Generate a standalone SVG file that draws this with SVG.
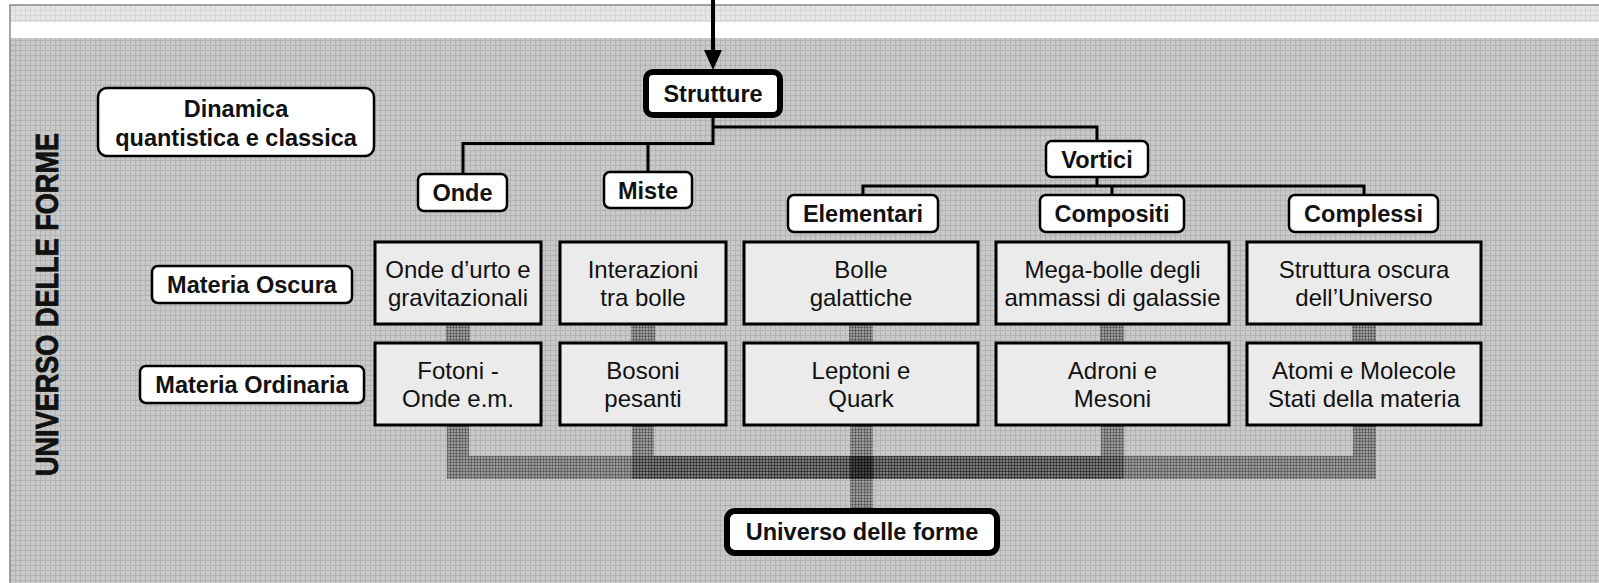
<svg xmlns="http://www.w3.org/2000/svg" width="1599" height="583" viewBox="0 0 1599 583">
<defs>
<pattern id="grid" width="5" height="5" patternUnits="userSpaceOnUse">
<rect width="5" height="5" fill="#c9c9c9"/>
<path d="M0,0.5 H5 M0.5,0 V5" stroke="#b3b3b3" stroke-width="1"/>
</pattern>
<pattern id="gridLight" width="5" height="5" patternUnits="userSpaceOnUse">
<rect width="5" height="5" fill="#e6e6e6"/>
<path d="M0,0.5 H5 M0.5,0 V5" stroke="#d6d6d6" stroke-width="1"/>
</pattern>
<pattern id="hatch" width="3" height="3" patternUnits="userSpaceOnUse">
<rect width="3" height="3" fill="#1a1a1a" fill-opacity="0.25"/>
<path d="M0,0.5 H3 M0.5,0 V3" stroke="#111" stroke-opacity="0.3" stroke-width="1"/>
</pattern>
<style>
.lbl{fill:#fff;stroke:#000;stroke-width:2.5}
.thick{fill:#fff;stroke:#000;stroke-width:6}
.cell{fill:#ebebeb;stroke:#000;stroke-width:3}
.b{font-family:"Liberation Sans",Arial,sans-serif;font-weight:bold;font-size:23.5px;fill:#111;text-anchor:middle}
.r{font-family:"Liberation Sans",Arial,sans-serif;font-size:24px;fill:#111;text-anchor:middle}
.ln{fill:none;stroke:#000;stroke-width:3}
.hb{fill:url(#hatch)}
</style>
</defs>

<!-- background -->
<rect x="0" y="0" width="1599" height="583" fill="#fff"/>
<rect x="10" y="5" width="1589" height="17" fill="url(#gridLight)"/>
<rect x="10" y="22" width="1589" height="16" fill="#fff"/>
<rect x="10" y="38" width="1589" height="545" fill="url(#grid)"/>
<path d="M10,583 V5 H1599" fill="none" stroke="#8a8a8a" stroke-width="1.5"/>

<text transform="translate(57.5 304.5) rotate(-90) scale(1 1.17)" font-family="'Liberation Sans',Arial,sans-serif" font-weight="bold" font-size="27" fill="#111" stroke="#111" stroke-width="0.7" text-anchor="middle" textLength="343" lengthAdjust="spacingAndGlyphs">UNIVERSO DELLE FORME</text>

<!-- connectors -->
<g id="connectors">
<path d="M713,0 V50" fill="none" stroke="#000" stroke-width="4"/>
<path d="M704,50 L722,50 L713,70 Z" fill="#000"/>
<path class="ln" d="M713,118 V143.5 H463 V174"/>
<path class="ln" d="M648,143.5 V172"/>
<path class="ln" d="M713,127 H1097 V141"/>
<path class="ln" d="M1097,178 V186 M863,195 V186 H1364 V195 M1112,186 V195"/>
<rect class="hb" x="446" y="325" width="24" height="18"/>
<rect class="hb" x="631" y="325" width="24" height="18"/>
<rect class="hb" x="849" y="325" width="24" height="18"/>
<rect class="hb" x="1100" y="325" width="24" height="18"/>
<rect class="hb" x="1352" y="325" width="24" height="18"/>
<path class="hb" d="M447,426 H469 V456 H873 V479 H447 Z"/>
<path class="hb" d="M632,426 H654 V456 H873 V479 H632 Z"/>
<path class="hb" d="M850,426 H873 V508 H850 Z"/>
<path class="hb" d="M1101,426 H1124 V479 H850 V456 H1101 Z"/>
<path class="hb" d="M1353,426 H1376 V479 H850 V456 H1353 Z"/>
</g>

<g id="strutture"><rect class="thick" x="646" y="72" width="134" height="43" rx="7"/><text class="b" x="713" y="102">Strutture</text></g>
<g id="dinamica"><rect class="lbl" x="98" y="88" width="276" height="68" rx="9"/><text class="b" x="236" y="117">Dinamica</text><text class="b" x="236" y="146">quantistica e classica</text></g>
<g id="onde"><rect class="lbl" x="418" y="174" width="89" height="37" rx="6"/><text class="b" x="462.5" y="201">Onde</text></g>
<g id="miste"><rect class="lbl" x="604" y="172" width="88" height="36" rx="6"/><text class="b" x="648" y="199">Miste</text></g>
<g id="vortici"><rect class="lbl" x="1046" y="141" width="102" height="36" rx="6"/><text class="b" x="1097" y="168">Vortici</text></g>
<g id="elementari"><rect class="lbl" x="788" y="195" width="150" height="37" rx="6"/><text class="b" x="863" y="222">Elementari</text></g>
<g id="compositi"><rect class="lbl" x="1040" y="195" width="144" height="37" rx="6"/><text class="b" x="1112" y="222">Compositi</text></g>
<g id="complessi"><rect class="lbl" x="1289" y="195" width="149" height="37" rx="6"/><text class="b" x="1363.5" y="222">Complessi</text></g>
<g id="materia-oscura"><rect class="lbl" x="152" y="266" width="200" height="37" rx="6"/><text class="b" x="252" y="293">Materia Oscura</text></g>
<g id="materia-ordinaria"><rect class="lbl" x="140" y="366" width="224" height="37" rx="6"/><text class="b" x="252" y="393">Materia Ordinaria</text></g>

<g id="onde-urto"><rect class="cell" x="375" y="242" width="166" height="82"/><text class="r" x="458" y="278">Onde d’urto e</text><text class="r" x="458" y="306">gravitazionali</text></g>
<g id="interazioni"><rect class="cell" x="560" y="242" width="166" height="82"/><text class="r" x="643" y="278">Interazioni</text><text class="r" x="643" y="306">tra bolle</text></g>
<g id="bolle"><rect class="cell" x="744" y="242" width="234" height="82"/><text class="r" x="861" y="278">Bolle</text><text class="r" x="861" y="306">galattiche</text></g>
<g id="mega-bolle"><rect class="cell" x="996" y="242" width="233" height="82"/><text class="r" x="1112.5" y="278">Mega-bolle degli</text><text class="r" x="1112.5" y="306">ammassi di galassie</text></g>
<g id="struttura-oscura"><rect class="cell" x="1247" y="242" width="234" height="82"/><text class="r" x="1364" y="278">Struttura oscura</text><text class="r" x="1364" y="306">dell’Universo</text></g>

<g id="fotoni"><rect class="cell" x="375" y="343" width="166" height="82"/><text class="r" x="458" y="379">Fotoni -</text><text class="r" x="458" y="407">Onde e.m.</text></g>
<g id="bosoni"><rect class="cell" x="560" y="343" width="166" height="82"/><text class="r" x="643" y="379">Bosoni</text><text class="r" x="643" y="407">pesanti</text></g>
<g id="leptoni"><rect class="cell" x="744" y="343" width="234" height="82"/><text class="r" x="861" y="379">Leptoni e</text><text class="r" x="861" y="407">Quark</text></g>
<g id="adroni"><rect class="cell" x="996" y="343" width="233" height="82"/><text class="r" x="1112.5" y="379">Adroni e</text><text class="r" x="1112.5" y="407">Mesoni</text></g>
<g id="atomi"><rect class="cell" x="1247" y="343" width="234" height="82"/><text class="r" x="1364" y="379">Atomi e Molecole</text><text class="r" x="1364" y="407">Stati della materia</text></g>

<g id="universo"><rect class="thick" x="727" y="511" width="270" height="42" rx="8"/><text class="b" x="862" y="540">Universo delle forme</text></g>
</svg>
